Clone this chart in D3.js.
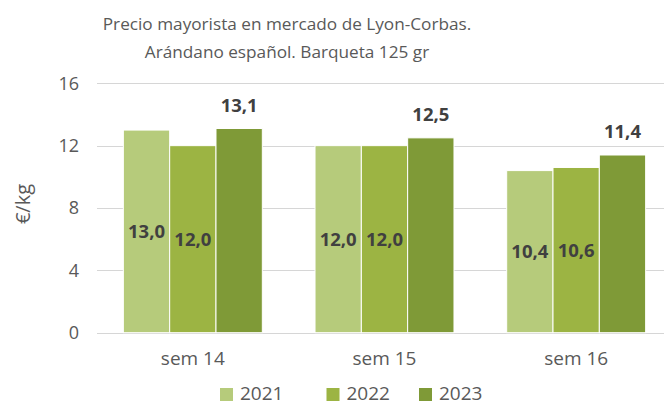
<!DOCTYPE html>
<html><head><meta charset="utf-8">
<script src="https://cdn.jsdelivr.net/npm/d3@7"></script>
<style>body{margin:0;background:#fff}svg{display:block}</style>
</head><body>
<svg id="c" width="664" height="406"></svg>
<script>
const categories = ["sem 14", "sem 15", "sem 16"];
const seriesNames = ["2021", "2022", "2023"];
const values2021 = [13.0, 12.0, 10.4];
const values2022 = [12.0, 12.0, 10.6];
const values2023 = [13.1, 12.5, 11.4];
const yTicks = [0, 4, 8, 12, 16];
const titleLines = ["Precio mayorista en mercado de Lyon-Corbas.", "Arándano español. Barqueta 125 gr"];
const yLabel = "€/kg";
const colors = ["#b6cb7b", "#9cb443", "#7f9a37"];

const series = [values2021, values2022, values2023];
const svg = d3.select("#c");
const font = "'Open Sans', sans-serif";

const x = d3.scaleBand().domain(categories).range([97, 672]).paddingInner(0.275).paddingOuter(0.1375);
const xs = d3.scaleBand().domain(seriesNames).range([0, x.bandwidth()]);
const y = d3.scaleLinear().domain([0, 16]).range([332.7, 83.3]);

// gridlines
svg.append("g").selectAll("line").data(yTicks).join("line")
  .attr("x1", 97).attr("x2", 664)
  .attr("y1", d => Math.round(y(d)) + 0.5).attr("y2", d => Math.round(y(d)) + 0.5)
  .attr("stroke", "#d6d6d6").attr("stroke-width", 1.2);

// y axis labels
svg.append("g").selectAll("text").data(yTicks).join("text")
  .attr("x", 79).attr("y", d => y(d)).attr("dy", "0.36em")
  .attr("text-anchor", "end").attr("font-family", font).attr("font-size", 18)
  .attr("fill", "#595959").text(d => d);

// bars
const groups = svg.append("g").selectAll("g").data(categories).join("g")
  .attr("transform", c => `translate(${x(c)},0)`);
groups.each(function(c, ci) {
  const g = d3.select(this);
  seriesNames.forEach((s, si) => {
    const v = series[si][ci];
    g.append("rect")
      .attr("x", xs(s)).attr("width", xs.bandwidth())
      .attr("y", y(v)).attr("height", y(0) - y(v))
      .attr("fill", colors[si]).attr("stroke", "#fff").attr("stroke-width", 1);
    const lbl = v.toFixed(1).replace(".", ",");
    const inside = si < 2;
    g.append("text")
      .attr("x", xs(s) + xs.bandwidth() / 2)
      .attr("y", inside ? (y(v) + y(0)) / 2 : y(v) - 16.6)
      .attr("dy", inside ? "0.36em" : 0)
      .attr("text-anchor", "middle").attr("font-family", font)
      .attr("font-size", 18.5).attr("font-weight", "bold")
      .attr("fill", "#404040").text(lbl);
  });
});

// x category labels
svg.append("g").selectAll("text").data(categories).join("text")
  .attr("x", c => x(c) + x.bandwidth() / 2).attr("y", 365)
  .attr("text-anchor", "middle").attr("font-family", font).attr("font-size", 19)
  .attr("fill", "#595959").text(c => c);

// title
svg.append("g").selectAll("text").data(titleLines).join("text")
  .attr("x", 287).attr("y", (d, i) => 30 + i * 28)
  .attr("text-anchor", "middle").attr("font-family", font).attr("font-size", 17.2)
  .attr("fill", "#595959").text(d => d);

// y label
svg.append("text").attr("transform", "translate(30,204) rotate(-90)")
  .attr("text-anchor", "middle").attr("font-family", font).attr("font-size", 20)
  .attr("fill", "#595959").text(yLabel);

// legend
const legendX = [220, 326.5, 419];
const leg = svg.append("g").selectAll("g").data(seriesNames).join("g")
  .attr("transform", (d, i) => `translate(${legendX[i]},388)`);
leg.append("rect").attr("width", 13).attr("height", 13).attr("fill", (d, i) => colors[i]);
leg.append("text").attr("x", 20).attr("y", 11.5).attr("font-family", font).attr("font-size", 19)
  .attr("fill", "#595959").text(d => d);
</script>
</body></html>
